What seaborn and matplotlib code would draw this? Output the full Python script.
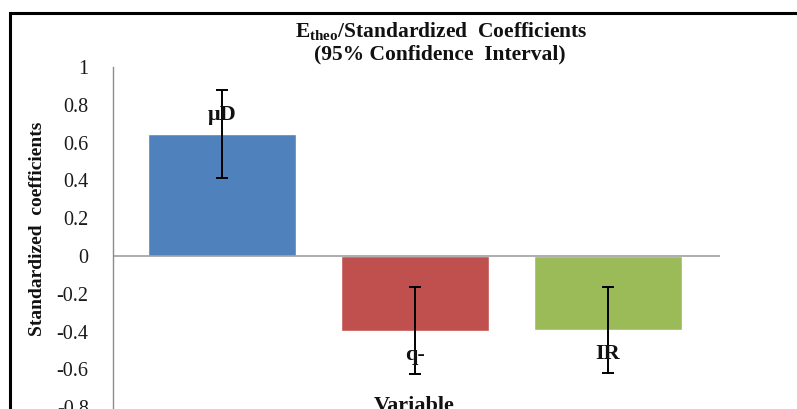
import matplotlib
matplotlib.use("Agg")
import matplotlib.pyplot as plt
import matplotlib.patches as mpatches
import seaborn as sns
import pandas as pd

# Standardized coefficients with 95% confidence half-widths
variables = ["\u03bcD", "q-", "IR"]
coefficients = [0.645, -0.395, -0.393]
ci_half_width = [0.233, 0.229, 0.227]
bar_colors = ["#4F81BD", "#C0504D", "#9BBB59"]
y_ticks = [-1.0, -0.8, -0.6, -0.4, -0.2, 0.0, 0.2, 0.4, 0.6, 0.8, 1.0]

sns.set_theme(style="white")
plt.rcParams["font.family"] = ["Liberation Serif", "DejaVu Serif"]
plt.rcParams["mathtext.fontset"] = "custom"
plt.rcParams["mathtext.rm"] = "Liberation Serif"
plt.rcParams["mathtext.bf"] = "Liberation Serif:bold"

W, H = 797, 409
fig = plt.figure(figsize=(W / 100, H / 100), dpi=100)
fig.patch.set_facecolor("white")

# axes: y=1 at px 67, y=0 at px 256, x from px 113 to 720
unit = 189.0
top_px = 67
bottom_px = 256 + unit  # y=-1
ax = fig.add_axes([113 / W, 1 - bottom_px / H, (720 - 113) / W, (bottom_px - top_px) / H])

df = pd.DataFrame({"variable": variables, "coef": coefficients})
sns.barplot(data=df, x="variable", y="coef", hue="variable", palette=bar_colors,
            width=0.767, legend=False, ax=ax, errorbar=None, saturation=1)

ax.errorbar(range(len(variables)), coefficients, yerr=ci_half_width, fmt="none",
            ecolor="black", elinewidth=1.4, capsize=4.5, capthick=1.4, zorder=5)

for i, (name, val) in enumerate(zip(variables, coefficients)):
    dy = 19 if val >= 0 else -24
    ax.annotate(name, xy=(i, val), xytext=(0, dy * 0.72), textcoords="offset points",
                ha="center", va="center", fontsize=16, fontweight="bold", color="#111111",
                zorder=6)

ax.set_xlim(-0.565, 2.58)
ax.set_ylim(-1.0, 1.0)
ax.set_yticks(y_ticks)
ax.set_yticklabels([f"{t:g}" for t in y_ticks])
ax.set_xticks([])
ax.set_xlabel("")
ax.set_ylabel("")

for s in ["top", "right", "bottom"]:
    ax.spines[s].set_visible(False)
ax.spines["left"].set_color("#8c8c8c")
ax.spines["left"].set_linewidth(1.0)
ax.axhline(0, color="#a0a0a0", linewidth=1.2, zorder=1)
ax.tick_params(axis="y", direction="inout", length=10, width=1.0, color="#8c8c8c",
               labelsize=14.5, labelcolor="#1a1a1a", pad=12.5)
ax.set_facecolor("white")

# titles and axis labels
fig.text(441 / W, 1 - 31 / H, r"$\mathbf{E_{theo}}$/Standardized  Coefficients",
         ha="center", va="center", fontsize=15.5, fontweight="bold", color="#111111")
fig.text(440 / W, 1 - 54 / H, "(95% Confidence  Interval)",
         ha="center", va="center", fontsize=15.5, fontweight="bold", color="#111111")
fig.text(38 / W, 1 - 229 / H, "Standardized  coefficients", rotation=90,
         ha="center", va="center", fontsize=14, fontweight="bold", color="#111111")
fig.text(414 / W, 1 - 411 / H, "Variable",
         ha="center", va="baseline", fontsize=16, fontweight="bold", color="#111111")

# outer chart frame
frame = mpatches.Rectangle((10 / W, -0.2), 1.2, 1 - 13 / H + 0.2, transform=fig.transFigure,
                           fill=False, edgecolor="black", linewidth=2.2, clip_on=False)
fig.patches.append(frame)

fig.savefig("out.png", dpi=100)
